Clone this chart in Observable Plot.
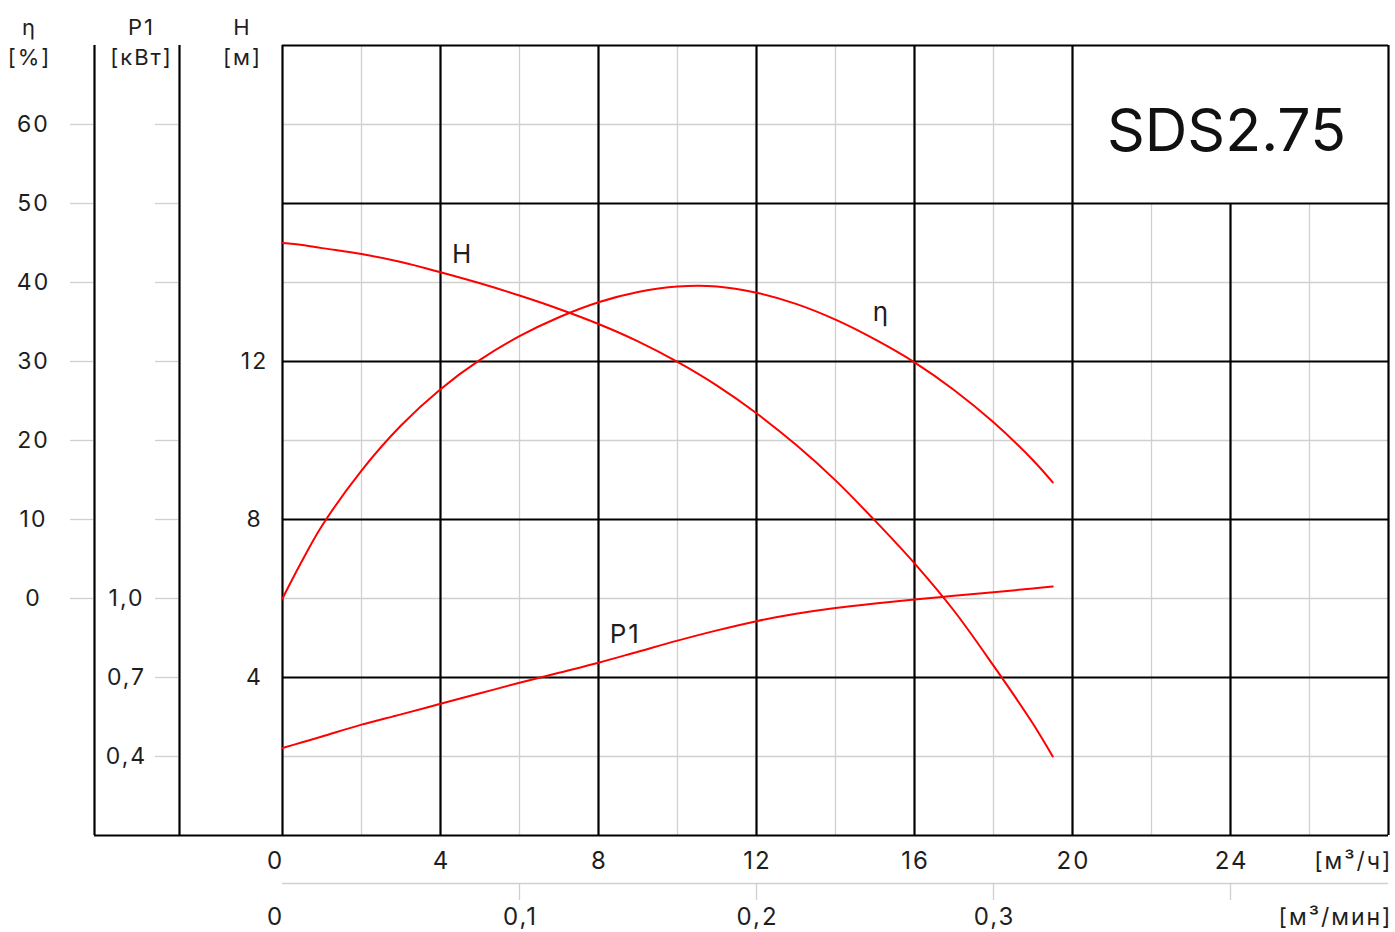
<!DOCTYPE html>
<html><head><meta charset="utf-8">
<script src="https://cdn.jsdelivr.net/npm/d3@7"></script>
<script src="https://cdn.jsdelivr.net/npm/@observablehq/plot@0.6"></script>
<style>
html,body{margin:0;padding:0;background:#fff;}
#chart{position:absolute;left:0;top:0;}
</style></head><body><div id="chart"></div>
<script>
// ---- data ----
const flow  = [0, 0.5, 1, 2, 3, 4, 5, 6, 7, 8, 9, 10, 11, 12, 13, 14, 15, 16, 17, 18, 19, 19.5]; // m³/h
const head  = [15.0, 14.95, 14.87, 14.72, 14.52, 14.26, 13.98, 13.67, 13.33, 12.95, 12.51, 11.99, 11.39, 10.69, 9.89, 8.99, 7.97, 6.89, 5.69, 4.30, 2.83, 2.0]; // m
const eta   = [0, 4.8, 9.2, 16.2, 21.9, 26.5, 30.2, 33.2, 35.6, 37.5, 38.8, 39.5, 39.5, 38.7, 37.3, 35.3, 32.8, 29.9, 26.4, 22.3, 17.5, 14.7]; // %
const power = [0.432, 0.454, 0.476, 0.521, 0.56, 0.600, 0.64, 0.680, 0.718, 0.756, 0.798, 0.840, 0.879, 0.914, 0.942, 0.964, 0.981, 0.996, 1.01, 1.024, 1.038, 1.046]; // kW

const flowTicks = [0, 4, 8, 12, 16, 20, 24];
const flowMinTicks = [0.1, 0.2, 0.3, 0.4];
const flowMinLabels = [0, 0.1, 0.2, 0.3];
const flowMinLabelText = ["0", "0,1", "0,2", "0,3"];
const etaTicks = [0, 10, 20, 30, 40, 50, 60];
const powerTicks = [0.4, 0.7, 1.0];
const powerTickText = ["0,4", "0,7", "1,0"];
const headTicks = [4, 8, 12];
const curveNames = ["H", "η", "P1"];
const curveLabelFlow = [4.56, 15.16, 8.68];
const curveLabelHead = [14.71, 13.24, 5.08];
const title = "SDS2.75";

// ---- layout (pixel geometry of the drawing) ----
const W = 1395, Hpx = 932;
const X0 = 282, Y0 = 835, K = 39.5;       // origin and pixels per unit
const fx = px => (px - X0) / K;
const fy = py => (Y0 - py) / K;
// secondary axes mapped onto the head (m) scale
const etaToH = e => 6 + e / 5;
const powerToH = p => 6 + (p - 1) * 20 / 3;

const rows = flow.map((q, i) => ({q, head: head[i], eta: eta[i], power: power[i]}));
const FONT = "Inter, 'DejaVu Sans', sans-serif";
const txt = "#1e1e1e";
const grid = "#d0d0d0";
const BW = 2.2;
const T = {fill: txt, textAnchor: "middle", lineAnchor: "middle"};

const marks = [
  // light grid
  Plot.ruleX([2, 6, 10, 14, 18], {x: d => d, y1: 0, y2: 20, stroke: grid, strokeWidth: 1.3}),
  Plot.ruleX([22, 26], {x: d => d, y1: 0, y2: 16, stroke: grid, strokeWidth: 1.3}),
  Plot.ruleY([2, 6, 10, 14], {y: d => d, x1: 0, x2: 28, stroke: grid, strokeWidth: 1.3}),
  Plot.ruleY([18], {y: d => d, x1: 0, x2: 20, stroke: grid, strokeWidth: 1.3}),
  // stubs in the eta strip and the P1 strip
  Plot.ruleY(etaTicks, {y: d => etaToH(d), x1: fx(70), x2: fx(93), stroke: grid, strokeWidth: 1.3}),
  Plot.ruleY(d3.range(2, 20, 2), {y: d => d, x1: fx(155), x2: fx(178), stroke: grid, strokeWidth: 1.3}),
  // m³/min axis line and ticks
  Plot.ruleY([0], {y: fy(883), x1: 0, x2: 28, stroke: grid, strokeWidth: 1.3}),
  Plot.ruleX(flowMinTicks, {x: d => d * 60, y1: fy(883), y2: fy(900), stroke: grid, strokeWidth: 1.3}),
  // heavy grid
  Plot.ruleX([0, 4, 8, 12, 16, 20, 28], {x: d => d, y1: 0, y2: 20, stroke: "#000", strokeWidth: BW}),
  Plot.ruleX([24], {x: d => d, y1: 0, y2: 16, stroke: "#000", strokeWidth: BW}),
  Plot.ruleX([fx(94), fx(179)], {x: d => d, y1: 0, y2: 20, stroke: "#000", strokeWidth: BW}),
  Plot.ruleY([4, 8, 12, 16, 20], {y: d => d, x1: 0, x2: 28, stroke: "#000", strokeWidth: BW}),
  Plot.ruleY([0], {y: d => d, x1: fx(94), x2: 28, stroke: "#000", strokeWidth: BW}),
  // curves
  Plot.line(rows, {x: "q", y: "head", stroke: "#ff0000", strokeWidth: 2, curve: "catmull-rom"}),
  Plot.line(rows, {x: "q", y: d => etaToH(d.eta), stroke: "#ff0000", strokeWidth: 2, curve: "catmull-rom"}),
  Plot.line(rows, {x: "q", y: d => powerToH(d.power), stroke: "#ff0000", strokeWidth: 2, curve: "catmull-rom"}),
  // curve labels
  Plot.text(curveNames, {...T, x: (d, i) => curveLabelFlow[i], y: (d, i) => curveLabelHead[i], text: d => d, fontSize: 26}),
  // left axis tick labels
  Plot.text(etaTicks, {...T, x: fx(33), y: d => etaToH(d), text: d => String(d), fontSize: 23}),
  Plot.text(powerTicks, {...T, x: fx(126), y: d => powerToH(d), text: (d, i) => powerTickText[i], fontSize: 23}),
  Plot.text(headTicks, {...T, x: fx(254), y: d => d, text: d => String(d), fontSize: 23}),
  // headers
  Plot.text(["η", "P1", "H"], {...T, x: (d, i) => fx([29, 141, 242][i]), y: fy(27), text: d => d, fontSize: 22}),
  Plot.text(["[%]", "[кВт]", "[м]"], {...T, x: (d, i) => fx([29, 141, 242][i]), y: fy(57), text: d => d, fontSize: 22}),
  // bottom axis labels
  Plot.text(flowTicks.filter(d => d !== 0), {...T, x: d => d, y: fy(861), dx: 1, text: d => String(d), fontSize: 24}),
  Plot.text([0], {...T, x: d => d, y: fy(861), dx: -7, text: d => String(d), fontSize: 24}),
  Plot.text(flowMinLabels.filter(d => d !== 0), {...T, x: d => d * 60, y: fy(917), dx: 1, text: d => flowMinLabelText[flowMinLabels.indexOf(d)], fontSize: 24}),
  Plot.text([0], {...T, x: d => d, y: fy(917), dx: -7, text: d => "0", fontSize: 24}),
  Plot.text(["[м³/ч]"], {...T, textAnchor: "end", x: fx(1392), y: fy(861), text: d => d, fontSize: 23}),
  Plot.text(["[м³/мин]"], {...T, textAnchor: "end", x: fx(1392), y: fy(917), text: d => d, fontSize: 23}),
  // title box label
  Plot.text([title], {...T, fill: "#111", x: fx(1226), y: fy(132), text: d => d, fontSize: 59})
];

const chart = Plot.plot({
  width: W, height: Hpx, margin: 0,
  x: {domain: [fx(0), fx(W)], range: [0, W], axis: null},
  y: {domain: [fy(Hpx), fy(0)], range: [Hpx, 0], axis: null},
  style: {fontFamily: FONT, background: "#fff", overflow: "visible"},
  marks
});
// wide, airy lettering like the reference (title keeps normal spacing)
d3.select(chart).selectAll("text").each(function() {
  if (this.textContent !== title) this.setAttribute("letter-spacing", "2");
});
document.getElementById("chart").appendChild(chart);
</script></body></html>
